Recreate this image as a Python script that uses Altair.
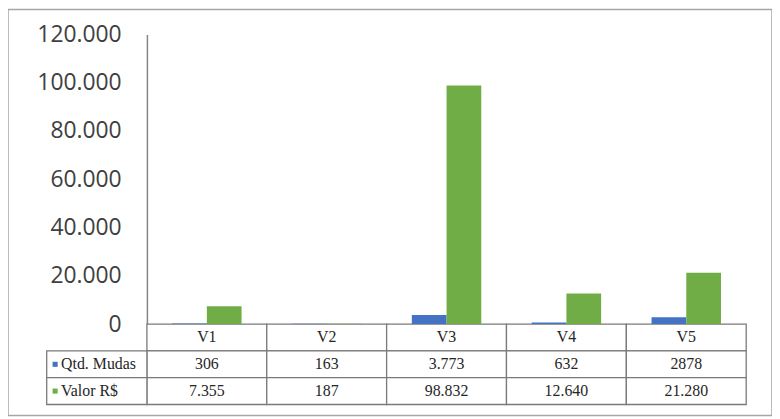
import altair as alt
import pandas as pd

# ---- data ----
categories = ["V1", "V2", "V3", "V4", "V5"]
series = ["Qtd. Mudas", "Valor R$"]
qtd_mudas = [306, 163, 3773, 632, 2878]
valor_rs = [7355, 187, 98832, 12640, 21280]
qtd_labels = ["306", "163", "3.773", "632", "2878"]
valor_labels = ["7.355", "187", "98.832", "12.640", "21.280"]
y_ticks = [0, 20000, 40000, 60000, 80000, 100000, 120000]
colors = ["#4472C4", "#70AD47"]

bars_df = pd.DataFrame({
    "cat": categories * 2,
    "series": [series[0]] * len(categories) + [series[1]] * len(categories),
    "value": qtd_mudas + valor_rs,
})

rows = ["hdr"] + series
table_df = pd.DataFrame({
    "cat": categories * 3,
    "row": ["hdr"] * 5 + [series[0]] * 5 + [series[1]] * 5,
    "text": categories + qtd_labels + valor_labels,
})
label_df = pd.DataFrame({"col": ["lbl"] * 2, "row": series, "series": series})

# ---- scales ----
xs = alt.Scale(domain=categories, range=[140, 744], paddingInner=0, paddingOuter=0)
xs_lbl = alt.Scale(domain=["lbl"], range=[39, 140], paddingInner=0, paddingOuter=0)
ys_row = alt.Scale(domain=rows, range=[317, 398], paddingInner=0, paddingOuter=0)
col_scale = alt.Scale(domain=series, range=colors)
grid_col = "#7a7a7a"

bars = alt.Chart(bars_df).mark_bar().encode(
    x=alt.X("cat:N", scale=xs, axis=None),
    xOffset=alt.XOffset("series:N", scale=alt.Scale(domain=series, paddingInner=0, paddingOuter=0.726)),
    y=alt.Y(
        "value:Q",
        scale=alt.Scale(domain=[0, 120000], range=[317, 25], nice=False),
        axis=alt.Axis(
            values=y_ticks,
            labelExpr="replace(format(datum.value, ',d'), ',', '.')",
            ticks=False, grid=False, domainColor="#868686", domainWidth=1.5,
            offset=-140, labelFontSize=23, labelFont="Open Sans",
            labelColor="#404040", labelPadding=26, title=None,
        ),
    ),
    color=alt.Color("series:N", scale=col_scale, legend=None),
)

cells = alt.Chart(table_df).mark_rect(fill="white", stroke=grid_col, strokeWidth=1.3).encode(
    x=alt.X("cat:N", scale=xs, axis=None),
    y=alt.Y("row:N", scale=ys_row, axis=None),
)

texts = alt.Chart(table_df).mark_text(font="Liberation Serif", fontSize=16, color="#262626").encode(
    x=alt.X("cat:N", scale=xs, axis=None),
    y=alt.Y("row:N", scale=ys_row, axis=None),
    text="text:N",
)

lbl_cells = alt.Chart(label_df).mark_rect(fill="white", stroke=grid_col, strokeWidth=1.3).encode(
    x=alt.X("col:N", scale=xs_lbl, axis=None),
    y=alt.Y("row:N", scale=ys_row, axis=None),
)

lbl_marks = alt.Chart(label_df).mark_square(size=26, opacity=1, xOffset=-42).encode(
    x=alt.X("col:N", scale=xs_lbl, axis=None),
    y=alt.Y("row:N", scale=ys_row, axis=None),
    color=alt.Color("series:N", scale=col_scale, legend=None),
)

lbl_text = alt.Chart(label_df).mark_text(
    font="Liberation Serif", fontSize=16, color="#262626", align="left", dx=-36
).encode(
    x=alt.X("col:N", scale=xs_lbl, axis=None),
    y=alt.Y("row:N", scale=ys_row, axis=None),
    text="row:N",
)

chart = alt.layer(cells, lbl_cells, texts, lbl_marks, lbl_text, bars).resolve_scale(
    x="independent", y="independent"
).properties(
    width=770, height=409, padding=0,
    autosize=alt.AutoSizeParams(type="none"),
    background="white",
).configure_view(stroke="#a6a6a6", strokeWidth=1.5)

chart.save("out.html", embed_options={"renderer": "svg", "actions": False})
